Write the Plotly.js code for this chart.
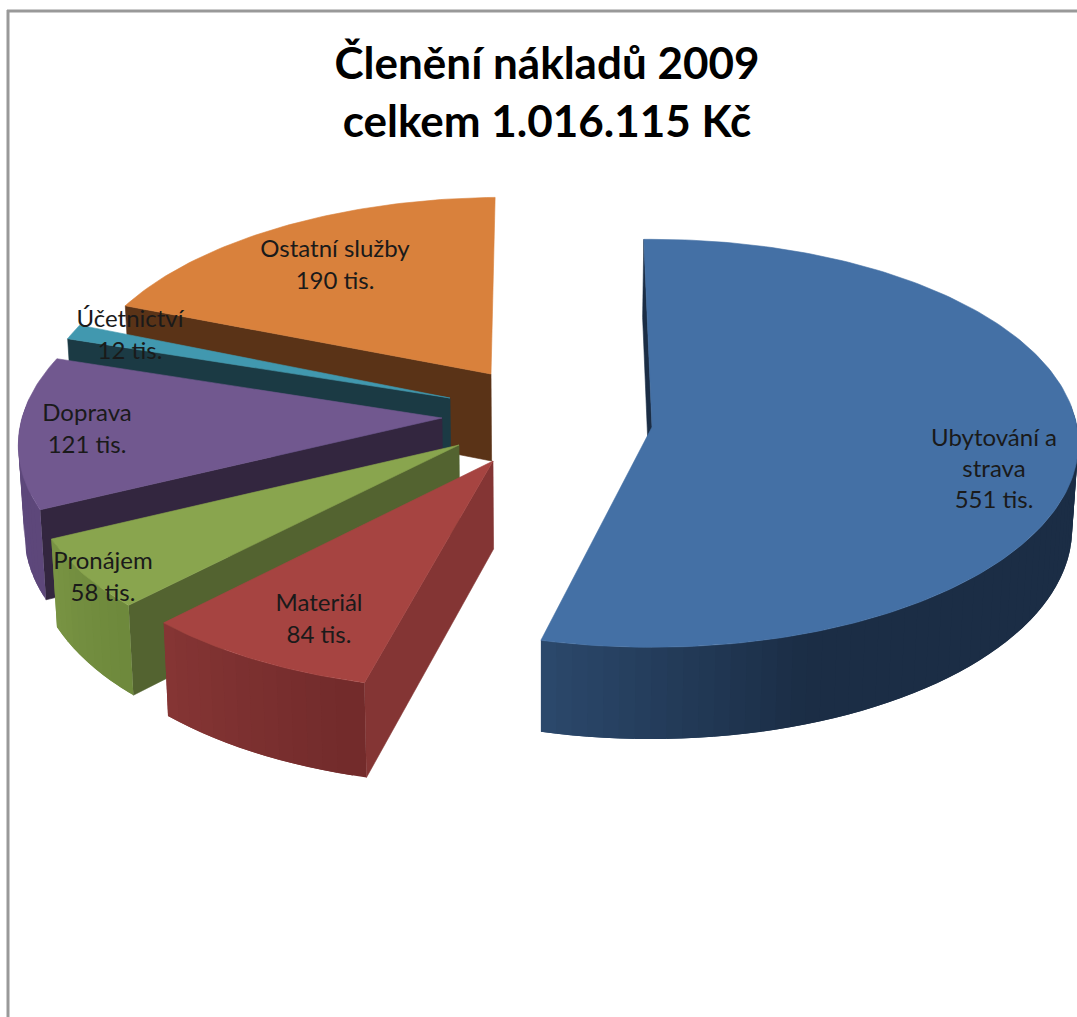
<!DOCTYPE html>
<html>
<head>
<meta charset="utf-8">
<script src="https://cdn.plot.ly/plotly-3.0.1.min.js"></script>
<style>html,body{margin:0;padding:0;background:#fff}#chart{width:1077px;height:1017px}</style>
</head>
<body>
<div id="chart"></div>
<script>
// --- data ---
const categories = ['Ubytování a<br>strava', 'Materiál', 'Pronájem', 'Doprava', 'Účetnictví', 'Ostatní služby'];
const values = [551, 84, 58, 121, 12, 190];
const unitSuffix = ' tis.';
const titleLines = ['Členění nákladů 2009', 'celkem 1.016.115 Kč'];

// --- colours ---
const topColors = ['#4470A5', '#A64441', '#89A54E', '#71588F', '#4198AF', '#D9813C'];
const cutColors = ['#1B2D45', '#843534', '#536330', '#33263F', '#1B3A44', '#5A3317'];
const wallStops = [
  [[194, '#2C4A6E'], [158, '#1B2D45'], [80, '#1B2D45']],
  [[224, '#873635'], [194, '#722B2B']],
  [[245, '#7A9544'], [224, '#6E893C']],
  [[290, '#5F4A7E'], [244, '#5D477A']],
  [[290, '#1B3A44'], [287, '#1B3A44']],
  [[360, '#5A3317'], [291, '#5A3317']]
];

// --- 3-D view of the exploded pie, one entry per slice ---
const apexX = [652, 493, 459, 442, 450, 491];
const apexY = [427, 461, 445, 418, 398, 374];
const radX = [425, 435, 425, 420, 410, 410];
const radY = [204, 212, 210, 205, 205, 192];
const skew = [0, -0.067, -0.12, -0.11, 0, -0.068];
const depths = [85, 88, 85, 87, 87, 87];
const labelX = [994, 319, 103, 87, 130, 335];
const labelY = [471, 621, 579, 431, 337, 267];
const startAngle = -1.2, persp = 0.08, vanishX = 541, vanishK = 0.0115;
const W = 1077, H = 1017;

const total = values.reduce((a, b) => a + b, 0);
function rim(i, deg) {
  const t = deg * Math.PI / 180, s = 1 - persp * Math.cos(t);
  const dy = -radY[i] * Math.cos(t) * s;
  return [apexX[i] + radX[i] * Math.sin(t) * s + skew[i] * dy, apexY[i] + dy, s];
}
function drop(i, p, s) {
  return [p[0] - (p[0] - vanishX) * vanishK, p[1] + depths[i] * s];
}
function hex2rgb(h) { return [1, 3, 5].map(k => parseInt(h.substr(k, 2), 16)); }
function wallColor(i, deg) {
  const st = wallStops[i];
  for (let k = 0; k < st.length - 1; k++) {
    if (deg <= st[k][0] && deg >= st[k + 1][0]) {
      const f = (st[k][0] - deg) / (st[k][0] - st[k + 1][0]);
      const a = hex2rgb(st[k][1]), b = hex2rgb(st[k + 1][1]);
      return 'rgb(' + a.map((v, j) => Math.round(v + (b[j] - v) * f)).join(',') + ')';
    }
  }
  return deg > st[0][0] ? st[0][1] : st[st.length - 1][1];
}
function poly(pts, color) {
  return {
    type: 'scatter', mode: 'lines', x: pts.map(p => p[0]).concat(pts[0][0]), y: pts.map(p => p[1]).concat(pts[0][1]),
    fill: 'toself', fillcolor: color, line: {color: color, width: 0.6}, hoverinfo: 'skip', showlegend: false
  };
}

// angular spans come from the values
const spans = [];
let acc = startAngle;
values.forEach(v => { const a = acc; acc += v / total * 360; spans.push([a, acc]); });

const traces = [];
[5, 4, 3, 2, 1, 0].forEach(i => {
  const [a0, a1] = spans[i];
  const A = [apexX[i], apexY[i]];
  // start cut face
  const p0 = rim(i, a0);
  traces.push(poly([A, p0, drop(i, p0, p0[2]), drop(i, A, 1)], cutColors[i]));
  // outer wall: overlapping bands painted from the far end, so no seams show
  const step = 2;
  for (let d = a1 - step; d > a0 - step; d -= step) {
    const b = Math.max(d, a0), e = Math.min(d + step + 2, a1);
    if (Math.cos(b * Math.PI / 180) > 0.05 && Math.cos(e * Math.PI / 180) > 0.05) continue;
    const pts = [];
    for (let g = b; g < e; g += 0.5) pts.push(rim(i, g));
    pts.push(rim(i, e));
    const lower = pts.map(p => drop(i, p, p[2])).reverse();
    const tr = poly(pts.concat(lower), wallColor(i, b + 1));
    tr.line.width = 0;
    traces.push(tr);
  }
  // top face
  const top = [A];
  for (let d = a0; d < a1; d += 1) top.push(rim(i, d));
  top.push(rim(i, a1));
  traces.push(poly(top, topColors[i]));
});

traces.push({
  type: 'scatter', mode: 'text', x: labelX, y: labelY,
  text: categories.map((c, i) => c + '<br>' + values[i] + unitSuffix),
  textposition: 'middle center',
  textfont: {family: 'Lato, Carlito, sans-serif', size: 24, color: '#1a1a1a'},
  hoverinfo: 'skip', showlegend: false
});

const layout = {
  width: W, height: H, margin: {l: 0, r: 0, t: 0, b: 0},
  paper_bgcolor: '#fff', plot_bgcolor: '#fff', showlegend: false,
  title: {
    text: '<b>' + titleLines.join('<br>') + '</b>',
    font: {family: 'Lato, Carlito, sans-serif', size: 44, color: '#000'},
    x: 547 / W, xanchor: 'center', xref: 'paper', y: 0.922, yref: 'container', yanchor: 'top'
  },
  xaxis: {range: [0, W], visible: false, fixedrange: true},
  yaxis: {range: [H, 0], visible: false, fixedrange: true},
  shapes: [
    {type: 'line', xref: 'x', yref: 'y', x0: 8, x1: 8, y0: 10, y1: H, line: {color: '#999', width: 3}},
    {type: 'line', xref: 'x', yref: 'y', x0: 7, x1: W, y0: 11, y1: 11, line: {color: '#999', width: 3}}
  ]
};
Plotly.newPlot('chart', traces, layout, {displayModeBar: false, staticPlot: true});
</script>
</body>
</html>
